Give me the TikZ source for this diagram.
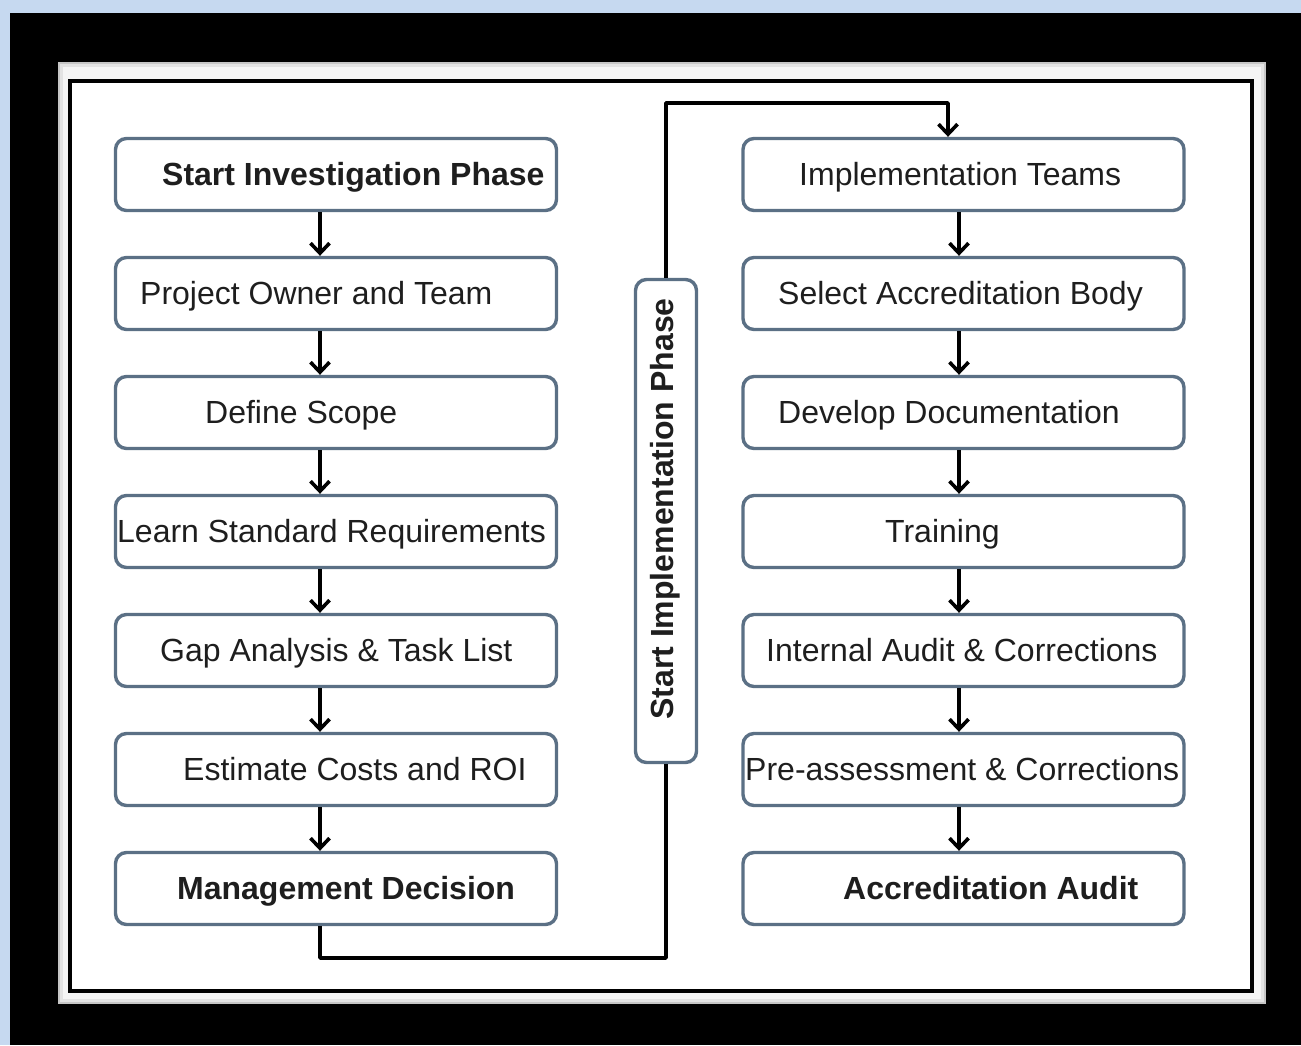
\documentclass[tikz,border=0pt]{standalone}
\usepackage{fontspec}
\setmainfont{Liberation Sans}
\usetikzlibrary{arrows.meta,calc}
\definecolor{bgblue}{HTML}{C6D9F0}
\definecolor{boxline}{HTML}{5B7085}
\definecolor{txt}{HTML}{1E1E1E}
\begin{document}
\begin{tikzpicture}[x=1pt,y=-1pt,
  stepbox/.style={draw=boxline, line width=3.4pt, rounded corners=11pt, fill=white,
    minimum width=441pt, minimum height=72pt, inner sep=0pt},
  lbl/.style={anchor=base west, inner sep=0pt, text=txt, font=\fontsize{32}{38}\selectfont},
  blbl/.style={lbl, font=\fontsize{32}{38}\selectfont\bfseries},
  flow/.style={line width=3.6pt, line join=round,
    -{Straight Barb[length=10pt,width=19pt,line width=3.6pt]}},
  link/.style={line width=3.6pt, line join=round}]
% background and frame
\useasboundingbox (0,0) rectangle (1301,1045);
\fill[bgblue] (0,0) rectangle (1301,1045);
\fill[black] (10,13) rectangle (1301,1045);
\fill[gray!45] (58,62) rectangle (1266,1004);
\fill[gray!22] (60,64) rectangle (1264,1002);
\fill[gray!8] (63,67) rectangle (1261,999);
\draw[line width=3.6pt, fill=white] (70,81) rectangle (1252,991);

% left column
\node[stepbox] (L1) at (336,174.5) {};
\node[stepbox] (L2) at (336,293.5) {};
\node[stepbox] (L3) at (336,412.5) {};
\node[stepbox] (L4) at (336,531.5) {};
\node[stepbox] (L5) at (336,650.5) {};
\node[stepbox] (L6) at (336,769.5) {};
\node[stepbox] (L7) at (336,888.5) {};
\node[blbl] (tL1) at (162,185) {Start Investigation Phase};
\node[lbl]  (tL2) at (140,304) {Project Owner and Team};
\node[lbl]  (tL3) at (205,423) {Define Scope};
\node[lbl]  (tL4) at (117,542) {Learn Standard Requirements};
\node[lbl]  (tL5) at (160,661) {Gap Analysis \& Task List};
\node[lbl]  (tL6) at (183,780) {Estimate Costs and ROI};
\node[blbl] (tL7) at (177,899) {Management Decision};

% right column
\node[stepbox] (R1) at (963.5,174.5) {};
\node[stepbox] (R2) at (963.5,293.5) {};
\node[stepbox] (R3) at (963.5,412.5) {};
\node[stepbox] (R4) at (963.5,531.5) {};
\node[stepbox] (R5) at (963.5,650.5) {};
\node[stepbox] (R6) at (963.5,769.5) {};
\node[stepbox] (R7) at (963.5,888.5) {};
\node[lbl]  (tR1) at (799,185) {Implementation Teams};
\node[lbl]  (tR2) at (778,304) {Select Accreditation Body};
\node[lbl]  (tR3) at (778,423) {Develop Documentation};
\node[lbl]  (tR4) at (885,542) {Training};
\node[lbl]  (tR5) at (766,661) {Internal Audit \& Corrections};
\node[lbl]  (tR6) at (745,780) {Pre-assessment \& Corrections};
\node[blbl] (tR7) at (843,899) {Accreditation Audit};

% vertical phase box
\node[stepbox, minimum width=61pt, minimum height=483pt] (V) at (666,521) {};
\node[blbl, rotate=90, anchor=base] (tV) at (673,509) {Start Implementation Phase};

% arrows
\coordinate (lx) at (320,0);
\coordinate (rx) at (959,0);
\foreach \a/\b in {L1/L2,L2/L3,L3/L4,L4/L5,L5/L6,L6/L7}
  \draw[flow] (\a.south -| lx) -- (\b.north -| lx);
\foreach \a/\b in {R1/R2,R2/R3,R3/R4,R4/R5,R5/R6,R6/R7}
  \draw[flow] (\a.south -| rx) -- (\b.north -| rx);
\coordinate (bl) at (320,958);
\coordinate (tr) at (948,103);
\draw[link] (L7.south -| lx) -- (bl) -| (V.south);
\draw[flow] (V.north) |- (tr) -- (R1.north -| tr);
\end{tikzpicture}
\end{document}
